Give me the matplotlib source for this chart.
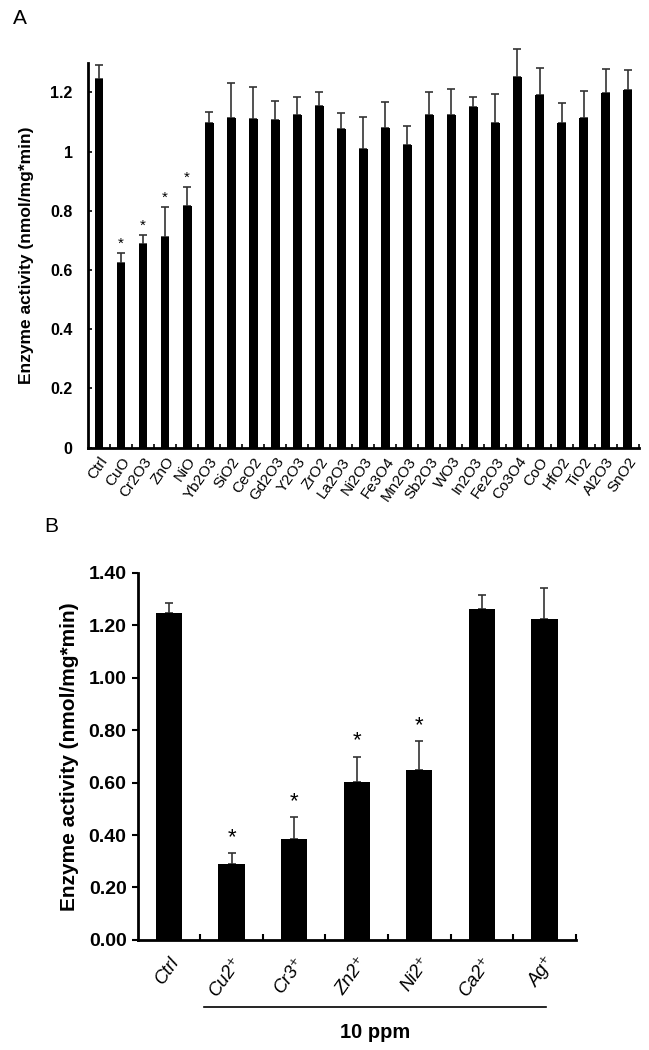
import numpy as np
import matplotlib
matplotlib.use("Agg")
import matplotlib.pyplot as plt
import matplotlib.transforms as mtransforms

plt.rcParams['font.family'] = ['Liberation Sans', 'DejaVu Sans']

# panel A: metal oxide nanoparticles
oxides = ["Ctrl", "CuO", "Cr2O3", "ZnO", "NiO", "Yb2O3", "SiO2", "CeO2", "Gd2O3",
          "Y2O3", "ZrO2", "La2O3", "Ni2O3", "Fe3O4", "Mn2O3", "Sb2O3", "WO3",
          "In2O3", "Fe2O3", "Co3O4", "CoO", "HfO2", "TiO2", "Al2O3", "SnO2"]
oxide_mean = [1.245, 0.625, 0.687, 0.713, 0.817, 1.097, 1.113, 1.109, 1.105,
              1.123, 1.153, 1.076, 1.008, 1.079, 1.022, 1.123, 1.123,
              1.149, 1.097, 1.253, 1.190, 1.097, 1.113, 1.197, 1.209]
oxide_err = [0.048, 0.032, 0.030, 0.100, 0.064, 0.035, 0.120, 0.110, 0.067,
             0.062, 0.047, 0.054, 0.107, 0.088, 0.064, 0.077, 0.088,
             0.035, 0.098, 0.092, 0.091, 0.066, 0.091, 0.081, 0.066]
oxide_sig = ["CuO", "Cr2O3", "ZnO", "NiO"]

# panel B: metal ions, 10 ppm
ions = ["Ctrl", "Cu2⁺", "Cr3⁺", "Zn2⁺", "Ni2⁺", "Ca2⁺", "Ag⁺"]
ion_mean = [1.245, 0.291, 0.386, 0.602, 0.649, 1.260, 1.222]
ion_err = [0.041, 0.039, 0.081, 0.097, 0.108, 0.056, 0.121]
ion_sig = ["Cu2⁺", "Cr3⁺", "Zn2⁺", "Ni2⁺"]

fig = plt.figure(figsize=(6.49, 10.5), dpi=100)

# ---- panel A ----
axA = fig.add_axes([0.1356, 0.5736, 0.8484, 0.3667])
xa = np.arange(len(oxides))
axA.bar(xa, oxide_mean, width=0.4, color="black", zorder=2)
axA.errorbar(xa, oxide_mean, yerr=[np.zeros(len(xa)), oxide_err], fmt="none",
             ecolor="#333333", elinewidth=1.2, capsize=3, capthick=1.2,
             clip_on=False, zorder=1)
for i, name in enumerate(oxides):
    if name in oxide_sig:
        axA.text(xa[i], oxide_mean[i] + oxide_err[i] + 0.008, "*", ha="center",
                 va="bottom", fontsize=11)
axA.set_xlim(-0.5, len(oxides) - 0.5)
axA.set_ylim(0, 1.3)
axA.set_yticks([0, 0.2, 0.4, 0.6, 0.8, 1.0, 1.2])
axA.set_yticklabels(["0", "0.2", "0.4", "0.6", "0.8", "1", "1.2"],
                    fontweight="bold", fontsize=11.5)
axA.set_xticks(xa)
axA.set_xticklabels(oxides, rotation=55, ha="right", rotation_mode="anchor",
                    fontsize=11)
axA.set_xticks(np.arange(0.5, len(oxides)), minor=True)
axA.tick_params(axis="x", which="major", length=0, pad=5)
axA.tick_params(axis="x", which="minor", direction="in", length=3, width=1.2)
axA.tick_params(axis="y", direction="in", length=3, width=1.2, pad=11)
axA.set_ylabel("Enzyme activity (nmol/mg*min)", fontweight="bold", fontsize=12.5,
               labelpad=12)
for s in ["top", "right"]:
    axA.spines[s].set_visible(False)
for s in ["left", "bottom"]:
    axA.spines[s].set_linewidth(2)
fig.text(20 / 649, 1 - 19 / 1050, "A", fontsize=15, ha="center", va="center")

# ---- panel B ----
axB = fig.add_axes([0.2122, 0.1048, 0.6749, 0.3498])
xb = np.arange(len(ions))
axB.bar(xb, ion_mean, width=0.42, color="black", zorder=2)
axB.errorbar(xb, ion_mean, yerr=[np.zeros(len(xb)), ion_err], fmt="none",
             ecolor="#333333", elinewidth=1.2, capsize=3, capthick=1.2,
             clip_on=False, zorder=1)
for i, name in enumerate(ions):
    if name in ion_sig:
        axB.text(xb[i], ion_mean[i] + ion_err[i] + 0.02, "*", ha="center",
                 va="bottom", fontsize=16)
axB.set_xlim(-0.5, len(ions) - 0.5)
axB.set_ylim(0, 1.4)
axB.set_yticks(np.arange(0, 1.41, 0.2))
axB.set_yticklabels(["%.2f" % v for v in np.arange(0, 1.41, 0.2)],
                    fontweight="bold", fontsize=14)
axB.set_xticks(xb)
axB.set_xticklabels(ions, rotation=55, ha="right", rotation_mode="anchor",
                    fontsize=13.5, fontstyle="italic")
axB.set_xticks(np.arange(0.5, len(ions)), minor=True)
axB.tick_params(axis="x", which="major", length=0, pad=10)
axB.tick_params(axis="x", which="minor", direction="in", length=4, width=1.5)
axB.tick_params(axis="y", direction="out", length=4, width=1.5, pad=4)
axB.set_ylabel("Enzyme activity (nmol/mg*min)", fontweight="bold", fontsize=15,
               labelpad=7)
for s in ["top", "right"]:
    axB.spines[s].set_visible(False)
for s in ["left", "bottom"]:
    axB.spines[s].set_linewidth(2)

trans = mtransforms.blended_transform_factory(axB.transData, axB.transAxes)
axB.plot([0.56, 6.03], [-0.182, -0.182], color="black", lw=1.2,
         transform=trans, clip_on=False)
axB.text(3.3, -0.253, "10 ppm", transform=trans, ha="center", va="center",
         fontweight="bold", fontsize=14.5)
fig.text(51 / 649, 1 - 527 / 1050, "B", fontsize=15, ha="center", va="center")

fig.savefig("out.png", dpi=100)
